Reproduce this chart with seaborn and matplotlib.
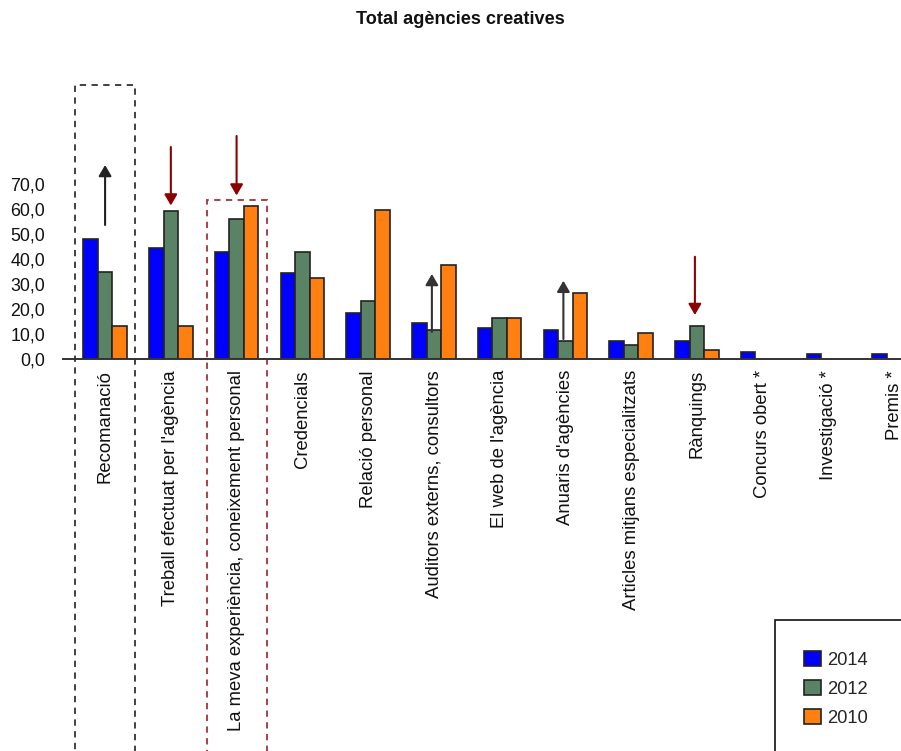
import matplotlib
matplotlib.use("Agg")
import matplotlib.pyplot as plt
from matplotlib.patches import Rectangle
import seaborn as sns
import pandas as pd
import numpy as np

categories = [
    "Recomanació",
    "Treball efectuat per l'agència",
    "La meva experiència, coneixement personal",
    "Credencials",
    "Relació personal",
    "Auditors externs, consultors",
    "El web de l'agència",
    "Anuaris d'agències",
    "Articles mitjans especialitzats",
    "Rànquings",
    "Concurs obert *",
    "Investigació *",
    "Premis *",
]
years = ["2014", "2012", "2010"]
values_2014 = [48.0, 44.4, 43.0, 34.6, 18.6, 14.6, 12.4, 11.6, 7.3, 7.3, 2.8, 2.0, 2.0]
values_2012 = [35.0, 59.0, 56.1, 43.0, 23.4, 11.7, 16.6, 7.3, 5.6, 13.3, np.nan, np.nan, np.nan]
values_2010 = [13.4, 13.4, 61.3, 32.6, 59.7, 37.6, 16.6, 26.6, 10.4, 3.6, np.nan, np.nan, np.nan]
yticks = [0, 10, 20, 30, 40, 50, 60, 70]
ytick_labels = ["0,0", "10,0", "20,0", "30,0", "40,0", "50,0", "60,0", "70,0"]

colors = {"2014": "#0000FF", "2012": "#5A8366", "2010": "#FF7F11"}

df = pd.DataFrame({
    "categoria": categories * 3,
    "any": [y for y in years for _ in categories],
    "valor": values_2014 + values_2012 + values_2010,
})

sns.set_style("white")
plt.rcParams["font.family"] = ["Liberation Sans", "DejaVu Sans"]

W, H = 901, 751
fig = plt.figure(figsize=(W / 100, H / 100), dpi=100)
ax_left, ax_right, ax_bottom, ax_top = 63, 927, 359, 85
ax = fig.add_axes([ax_left / W, 1 - ax_bottom / H,
                   (ax_right - ax_left) / W, (ax_bottom - ax_top) / H])

sns.barplot(data=df, x="categoria", y="valor", hue="any", hue_order=years,
            order=categories, palette=colors, width=0.66, gap=0,
            edgecolor="#222222", linewidth=1.2, saturation=1, ax=ax,
            legend=True, errorbar=None)

ymax = (ax_bottom - ax_top) / 2.5
ax.set_xlim(-0.64, 12.5)
ax.set_ylim(0, ymax)
ax.set_yticks(yticks)
ax.set_yticklabels(ytick_labels, fontsize=12.8, color="#111111")
ax.set_xticks(range(len(categories)))
ax.set_xticklabels(categories, rotation=90, fontsize=13.3, color="#111111",
                   va="top", ha="center")
ax.tick_params(axis="y", length=0, pad=13)
ax.tick_params(axis="x", length=0, pad=8)
ax.set_xlabel("")
ax.set_ylabel("")
for s in ["left", "right", "top"]:
    ax.spines[s].set_visible(False)
ax.spines["bottom"].set_color("#333333")
ax.spines["bottom"].set_linewidth(1.4)

# highlighted categories: dashed frames running off the bottom edge
ax.add_patch(Rectangle((-0.456, -180), 0.912, 109.6 + 180, fill=False,
                       ls=(0, (3.5, 3)), lw=1.3, ec="#333333", clip_on=False))
ax.add_patch(Rectangle((2 - 0.456, -180), 0.912, 63.6 + 180, fill=False,
                       ls=(0, (3.5, 3)), lw=1.3, ec="#A5323A", clip_on=False))

# trend arrows
arrows = [
    (0, 53.6, 77.6, "#222222"),
    (1, 84.8, 61.4, "#8B0000"),
    (2, 89.2, 65.4, "#8B0000"),
    (4.97, 10.8, 34.0, "#333333"),
    (6.97, 8.0, 31.3, "#333333"),
    (8.97, 40.9, 17.6, "#8B0000"),
]
for x, y0, y1, c in arrows:
    ax.annotate("", xy=(x, y1), xytext=(x, y0),
                arrowprops=dict(arrowstyle="-|>,head_length=0.55,head_width=0.32",
                                color=c, lw=1.5, mutation_scale=12,
                                shrinkA=0, shrinkB=0),
                annotation_clip=False)

fig.text(460 / W, 1 - 19 / H, "Total agències creatives", ha="center",
         va="center", fontsize=13.1, fontweight="bold", color="#111111")

# legend
handles, labels = ax.get_legend_handles_labels()
ax.get_legend().remove()
fig.legend(handles, labels, loc="upper left",
           bbox_to_anchor=(804 / W, 1 - 651 / H), bbox_transform=fig.transFigure,
           frameon=False, fontsize=13.2, handlelength=0.9, handleheight=0.9,
           handletextpad=0.35, labelspacing=0.6, borderpad=0, borderaxespad=0)
fig.patches.append(Rectangle((775 / W, -0.1), 0.5, 0.1 + (751 - 620) / H,
                             transform=fig.transFigure, fill=False,
                             ec="#111111", lw=1.2))

fig.savefig("out.png", dpi=100)
